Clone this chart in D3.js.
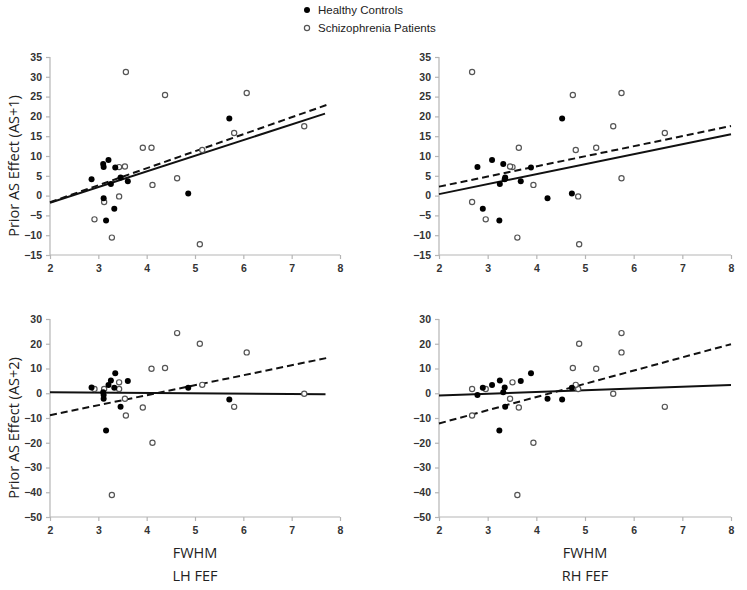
<!DOCTYPE html>
<html>
<head>
<meta charset="utf-8">
<script src="https://cdn.jsdelivr.net/npm/d3@7"></script>
<style>
  html, body { margin: 0; padding: 0; background: #fff; }
  svg { display: block; }
</style>
</head>
<body>
<svg id="chart" width="747" height="590"></svg>
<script>
// ---------- DATA ----------
// Healthy controls (one entry per subject)
const hcLH  = [2.86, 3.10, 3.11, 3.21, 3.26, 3.11, 3.35, 3.33, 3.16, 3.46, 3.61, 4.86, 5.71];
const hcRH  = [3.35, 3.32, 2.79, 3.09, 3.25, 4.23, 3.89, 2.90, 3.24, 3.36, 3.68, 4.73, 4.53];
const hcAS1 = [4.1, 8.0, 7.2, 9.0, 2.9, -0.7, 7.1, -3.3, -6.3, 4.6, 3.6, 0.5, 19.5];
const hcAS2 = [2.3, 0.4, -0.7, 3.3, 5.2, -2.2, 8.1, 2.2, -15.1, -5.5, 4.9, 2.2, -2.5];
// Schizophrenia patients
const szLH  = [3.57, 4.38, 6.07, 5.81, 7.26, 3.92, 4.10, 3.43, 3.55, 4.63, 4.12, 3.43, 3.12, 2.92, 3.28, 5.10, 5.15];
const szRH  = [2.68, 4.75, 5.75, 6.64, 5.58, 3.64, 5.23, 3.51, 3.46, 5.75, 3.94, 4.86, 2.68, 2.96, 3.61, 4.88, 4.81];
const szAS1 = [31.2, 25.4, 25.9, 15.8, 17.5, 12.1, 12.1, 7.2, 7.35, 4.4, 2.7, -0.2, -1.6, -6.0, -10.6, -12.3, 11.5];
const szAS2 = [-9.0, 10.2, 16.5, -5.5, -0.2, -5.75, 9.9, 4.4, -2.2, 24.3, -20.0, 1.7, 1.7, 1.7, -41.1, 20.0, 3.4];

const xTicks    = [2, 3, 4, 5, 6, 7, 8];
const yTicksAS1 = [35, 30, 25, 20, 15, 10, 5, 0, -5, -10, -15];
const yTicksAS2 = [30, 20, 10, 0, -10, -20, -30, -40, -50];
const legendLabels = ["Healthy Controls", "Schizophrenia Patients"];
const yTitles = ["Prior AS Effect (AS+1)", "Prior AS Effect (AS+2)"];
const xTitle = "FWHM";
const regionLabels = ["LH FEF", "RH FEF"];

// ---------- LAYOUT ----------
const svg = d3.select("#chart");
const tickFont = "'Liberation Sans', Arial, sans-serif";
const titleFont = "'Open Sans', 'Noto Sans', sans-serif";
const axisColor = "#b5b5b5";

const panels = [
  { hx: hcLH, hy: hcAS1, sx: szLH, sy: szAS1, yTicks: yTicksAS1, yDom: [-15, 35],
    xr: [50, 340], yr: [255, 57], hcEnd: 7.69, szEnd: 7.77, yTitle: yTitles[0] },
  { hx: hcRH, hy: hcAS1, sx: szRH, sy: szAS1, yTicks: yTicksAS1, yDom: [-15, 35],
    xr: [439, 731], yr: [255, 57], hcEnd: 8, szEnd: 8 },
  { hx: hcLH, hy: hcAS2, sx: szLH, sy: szAS2, yTicks: yTicksAS2, yDom: [-50, 30],
    xr: [50, 340], yr: [517, 319], hcEnd: 7.7, szEnd: 7.77, yTitle: yTitles[1], region: regionLabels[0] },
  { hx: hcRH, hy: hcAS2, sx: szRH, sy: szAS2, yTicks: yTicksAS2, yDom: [-50, 30],
    xr: [439, 731], yr: [517, 319], hcEnd: 8, szEnd: 8, region: regionLabels[1] }
];

function fit(xs, ys) {
  const mx = d3.mean(xs), my = d3.mean(ys);
  let sxy = 0, sxx = 0;
  xs.forEach((x, i) => { sxy += (x - mx) * (ys[i] - my); sxx += (x - mx) * (x - mx); });
  const b = sxy / sxx;
  return x => my + b * (x - mx);
}

panels.forEach(p => {
  const x = d3.scaleLinear().domain([2, 8]).range(p.xr);
  const y = d3.scaleLinear().domain(p.yDom).range(p.yr);
  const g = svg.append("g");

  // y axis
  const ya = g.append("g").attr("transform", `translate(${p.xr[0]},0)`)
    .call(d3.axisLeft(y).tickValues(p.yTicks).tickSize(4).tickPadding(4).tickFormat(d3.format("d")));
  // x axis
  const xa = g.append("g").attr("transform", `translate(0,${p.yr[0]})`)
    .call(d3.axisBottom(x).tickValues(xTicks).tickSize(4).tickPadding(6).tickFormat(d3.format("d")));
  [ya, xa].forEach(a => {
    a.select(".domain").attr("stroke", axisColor).attr("stroke-width", 1.2);
    a.selectAll(".tick line").attr("stroke", axisColor).attr("stroke-width", 1.2);
    a.selectAll(".tick text").attr("fill", "#333").style("font-family", tickFont)
      .style("font-size", "10.5px").style("font-weight", "bold");
  });
  ya.select(".domain").attr("d", `M0,${p.yr[0]}V${p.yr[1]}`);
  xa.select(".domain").attr("d", `M${p.xr[0]},0H${p.xr[1]}`);

  // regression lines
  const fh = fit(p.hx, p.hy), fs = fit(p.sx, p.sy);
  g.append("line")
    .attr("x1", x(2)).attr("y1", y(fh(2))).attr("x2", x(p.hcEnd)).attr("y2", y(fh(p.hcEnd)))
    .attr("stroke", "#111").attr("stroke-width", 2);
  g.append("line")
    .attr("x1", x(2)).attr("y1", y(fs(2))).attr("x2", x(p.szEnd)).attr("y2", y(fs(p.szEnd)))
    .attr("stroke", "#111").attr("stroke-width", 2).attr("stroke-dasharray", "7,4");

  // patients (open circles)
  g.selectAll(".sz").data(p.sx.map((v, i) => [v, p.sy[i]])).enter().append("circle")
    .attr("cx", d => x(d[0])).attr("cy", d => y(d[1])).attr("r", 2.6)
    .attr("fill", "#fff").attr("stroke", "#555").attr("stroke-width", 1.2);
  // controls (filled)
  g.selectAll(".hc").data(p.hx.map((v, i) => [v, p.hy[i]])).enter().append("circle")
    .attr("cx", d => x(d[0])).attr("cy", d => y(d[1])).attr("r", 3)
    .attr("fill", "#000");

  if (p.yTitle) {
    const cy = (p.yr[0] + p.yr[1]) / 2 + 10;
    g.append("text").attr("transform", `translate(19,${cy}) rotate(-90)`)
      .attr("text-anchor", "middle").style("font-family", titleFont).style("font-size", "14.5px")
      .attr("fill", "#222").text(p.yTitle);
  }
  if (p.region) {
    const cx = (p.xr[0] + p.xr[1]) / 2 + (p.xr[0] < 100 ? 0 : -0);
    g.append("text").attr("x", cx).attr("y", 558).attr("text-anchor", "middle")
      .style("font-family", titleFont).style("font-size", "14.5px").attr("fill", "#222").text(xTitle);
    g.append("text").attr("x", cx).attr("y", 581).attr("text-anchor", "middle")
      .style("font-family", titleFont).style("font-size", "14.5px").attr("fill", "#222").text(p.region);
  }
});

// legend
const lg = svg.append("g");
legendLabels.forEach((t, i) => {
  const cy = 10 + i * 18;
  if (i === 0) lg.append("circle").attr("cx", 307).attr("cy", cy).attr("r", 3).attr("fill", "#000");
  else lg.append("circle").attr("cx", 307).attr("cy", cy).attr("r", 2.6).attr("fill", "#fff")
    .attr("stroke", "#555").attr("stroke-width", 1.2);
  lg.append("text").attr("x", 318).attr("y", cy + 4).style("font-family", tickFont)
    .style("font-size", "11.5px").attr("fill", "#222").text(t);
});
</script>
</body>
</html>
